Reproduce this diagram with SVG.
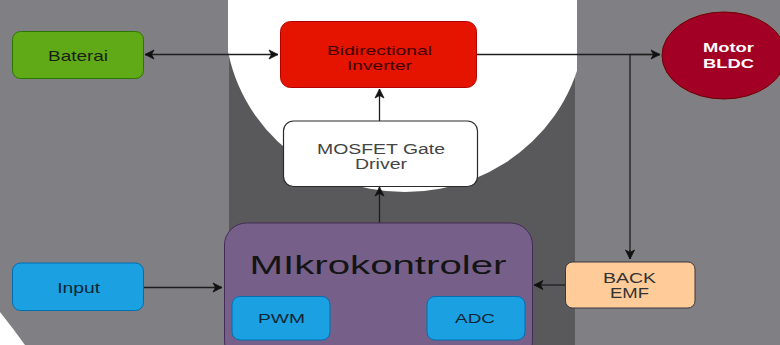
<svg xmlns="http://www.w3.org/2000/svg" width="780" height="345" viewBox="0 0 780 345">
<style>
.t{font-family:"Liberation Sans",Arial,sans-serif;text-anchor:middle;lengthAdjust:spacingAndGlyphs}
.blue{fill:#1ba1e2;stroke:#006eaf;stroke-width:1}
.c{fill:none;stroke:#1e1e1e;stroke-width:1.3}
</style>
<defs>
<clipPath id="band"><rect x="228" y="0" width="349" height="345"/></clipPath>
<marker id="ah" markerUnits="userSpaceOnUse" markerWidth="12" markerHeight="12" viewBox="0 0 12 12" refX="10" refY="6" orient="auto-start-reverse">
<path d="M10,6 L1,1.5 L3.5,6 L1,10.5 Z" fill="#111" stroke="#111" stroke-width="0.8"/>
</marker>
</defs>
<g id="background">
<rect x="0" y="0" width="780" height="345" fill="#7f7f84"/>
<rect x="229" y="0" width="346" height="345" fill="#59595b"/>
<ellipse cx="405" cy="20" rx="180" ry="172" fill="#ffffff" clip-path="url(#band)"/>
<path d="M0,312 Q12,327 25,345 L0,345 Z" fill="#ffffff"/>
</g>
<g id="connectors">
<path class="c" d="M145,54.5 H278" marker-start="url(#ah)" marker-end="url(#ah)"/>
<path class="c" d="M477,54.5 H660"/>
<path class="c" d="M630,54.5 V259"/>
<path class="c" d="M630,54.5 H660" marker-end="url(#ah)"/>
<path class="c" d="M379.5,121 V89" marker-end="url(#ah)"/>
<path class="c" d="M379.5,223 V187" marker-end="url(#ah)"/>
<path class="c" d="M143.5,287.5 H222" marker-end="url(#ah)"/>
<path class="c" d="M565,285 H534" marker-end="url(#ah)"/>
<path class="c" d="M630,250 V259" marker-end="url(#ah)"/>
</g>
<g id="baterai">
<rect x="12.5" y="31.5" width="131" height="47" rx="8" fill="#60a917" stroke="#2d7600"/>
<text class="t" x="78" y="60.5" font-size="15" textLength="60" lengthAdjust="spacingAndGlyphs" fill="#1a1f14">Baterai</text>
</g>
<g id="inverter">
<rect x="280.5" y="21.5" width="196" height="66" rx="10" fill="#e51400" stroke="#b20000"/>
<text class="t" x="379.5" y="54.5" font-size="13" textLength="105" lengthAdjust="spacingAndGlyphs" fill="#3d0000">Bidirectional</text>
<text class="t" x="379.5" y="70" font-size="13" textLength="65" lengthAdjust="spacingAndGlyphs" fill="#3d0000">Inverter</text>
</g>
<g id="motor">
<ellipse cx="724" cy="55.5" rx="62" ry="43.5" fill="#a20025" stroke="#6f0000"/>
<text class="t" x="728.5" y="52" font-size="13" font-weight="bold" textLength="51" lengthAdjust="spacingAndGlyphs" fill="#ffffff">Motor</text>
<text class="t" x="728.5" y="67.5" font-size="13" font-weight="bold" textLength="51" lengthAdjust="spacingAndGlyphs" fill="#ffffff">BLDC</text>
</g>
<g id="mosfet">
<rect x="283.5" y="121" width="194" height="65.5" rx="10" fill="#ffffff" stroke="#2a2a2a" stroke-width="1.2"/>
<text class="t" x="381" y="154" font-size="14" textLength="128" lengthAdjust="spacingAndGlyphs" fill="#444444">MOSFET Gate</text>
<text class="t" x="381" y="169" font-size="14" textLength="52" lengthAdjust="spacingAndGlyphs" fill="#444444">Driver</text>
</g>
<g id="mikrokontroler">
<rect x="224.5" y="223" width="308" height="140" rx="22" fill="#76608a" stroke="#432d57"/>
<text class="t" x="378" y="274" font-size="26.5" textLength="257" lengthAdjust="spacingAndGlyphs" fill="#141414">MIkrokontroler</text>
</g>
<g id="pwm">
<rect class="blue" x="232" y="296.5" width="98" height="43.5" rx="8"/>
<text class="t" x="281.5" y="323.3" font-size="13.5" textLength="47" lengthAdjust="spacingAndGlyphs" fill="#0f2533">PWM</text>
</g>
<g id="adc">
<rect class="blue" x="427" y="296.5" width="98" height="43.5" rx="8"/>
<text class="t" x="475" y="323.3" font-size="13.5" textLength="40" lengthAdjust="spacingAndGlyphs" fill="#0f2533">ADC</text>
</g>
<g id="input">
<rect class="blue" x="12.5" y="263" width="131" height="47.5" rx="8"/>
<text class="t" x="78.7" y="293.3" font-size="15" textLength="43" lengthAdjust="spacingAndGlyphs" fill="#0f2533">Input</text>
</g>
<g id="backemf">
<rect x="565.5" y="262" width="129.5" height="46" rx="7" fill="#ffcc99" stroke="#36393d"/>
<text class="t" x="629.5" y="283.3" font-size="14.5" textLength="53" lengthAdjust="spacingAndGlyphs" fill="#333333">BACK</text>
<text class="t" x="629.5" y="298.3" font-size="14.5" textLength="39" lengthAdjust="spacingAndGlyphs" fill="#333333">EMF</text>
</g>
</svg>
